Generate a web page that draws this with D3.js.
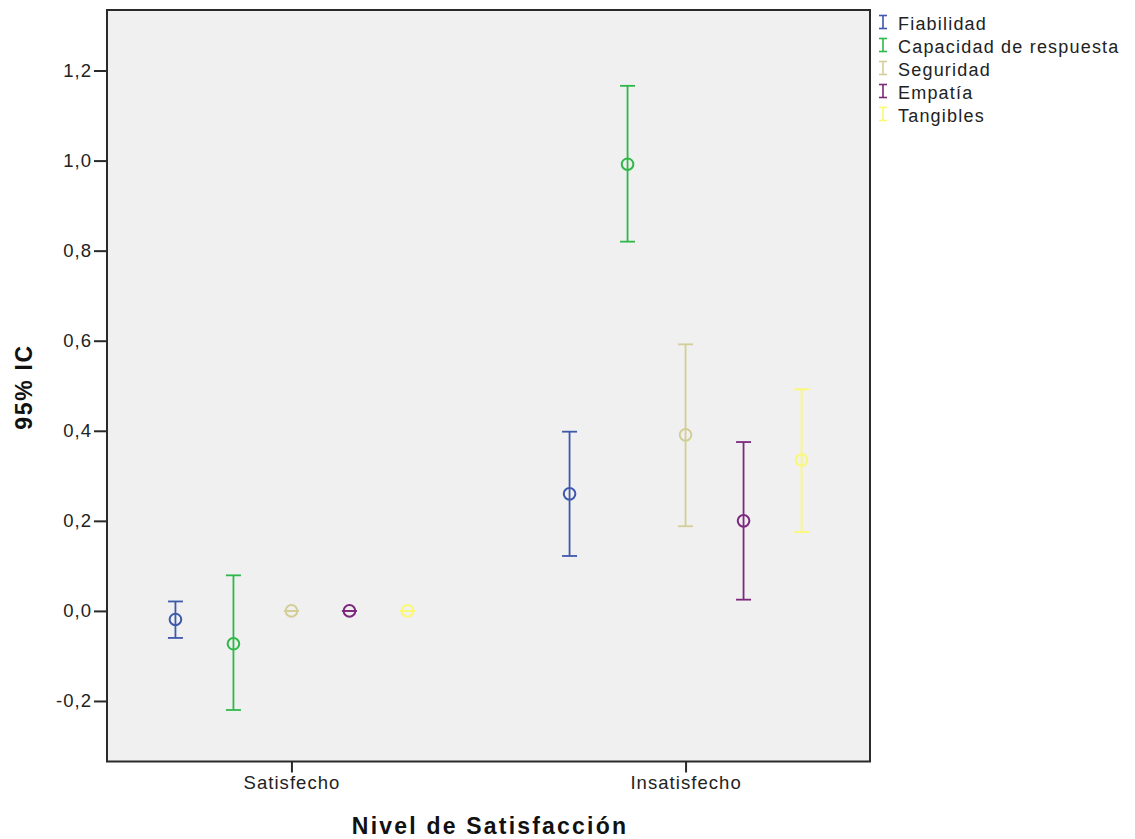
<!DOCTYPE html>
<html><head><meta charset="utf-8">
<script src="https://cdn.jsdelivr.net/npm/d3@7"></script>
<style>body{margin:0;background:#fff;} svg{display:block;} text{font-family:"Liberation Sans",Arial,sans-serif;}</style>
</head><body>
<svg id="c" width="1135" height="839"></svg>
<script>
const categories = ["Satisfecho", "Insatisfecho"];
const series = ["Fiabilidad", "Capacidad de respuesta", "Seguridad", "Empatía", "Tangibles"];
const colors = ["#3E58AC", "#2EB848", "#D3CE97", "#7C287D", "#FBF873"];
// per series: [Satisfecho, Insatisfecho]
const means = [[-0.019, 0.260], [-0.073, 0.992], [0.000, 0.391], [0.000, 0.200], [0.000, 0.335]];
const lowers = [[-0.060, 0.122], [-0.220, 0.820], [0.000, 0.188], [0.000, 0.025], [0.000, 0.175]];
const uppers = [[0.021, 0.398], [0.079, 1.166], [0.000, 0.592], [0.000, 0.375], [0.000, 0.492]];
const yTicks = [-0.2, 0.0, 0.2, 0.4, 0.6, 0.8, 1.0, 1.2];

const FONT = "Liberation Sans, Arial, sans-serif";
const svg = d3.select("#c");
const L = 107, R = 870, T = 10, B = 761.5;
const y = d3.scaleLinear().domain([-0.3344, 1.3344]).range([B, T]);
const x = d3.scalePoint().domain(categories).range([L, R]).padding(0.468);
const off = d3.scalePoint().domain(series).range([-116, 116]);

svg.append("rect").attr("x", L).attr("y", T).attr("width", R - L).attr("height", B - T)
  .attr("fill", "#F0F0F0").attr("stroke", "#2a2a2a").attr("stroke-width", 2);

const yAxis = svg.append("g").attr("transform", `translate(${L},0)`)
  .call(d3.axisLeft(y).tickValues(yTicks).tickSize(13).tickPadding(2)
    .tickFormat(d => d3.format(".1f")(d).replace(".", ",").replace("−", "-")));
yAxis.select(".domain").remove();
yAxis.selectAll("line").attr("stroke", "#2a2a2a").attr("stroke-width", 2);
yAxis.selectAll("text").attr("font-size", 18.5).attr("letter-spacing", 1).attr("fill", "#222").style("font-family", FONT);

const xAxis = svg.append("g").attr("transform", `translate(0,${B})`)
  .call(d3.axisBottom(x).tickSize(11).tickPadding(3));
xAxis.select(".domain").remove();
xAxis.selectAll("line").attr("stroke", "#2a2a2a").attr("stroke-width", 2);
xAxis.selectAll("text").attr("font-size", 18.5).attr("letter-spacing", 1.05).attr("fill", "#222").style("font-family", FONT);

svg.append("text").attr("x", 490).attr("y", 834).attr("text-anchor", "middle")
  .attr("font-size", 23).attr("letter-spacing", 2.2).attr("font-weight", "bold").attr("fill", "#111").text("Nivel de Satisfacción");
svg.append("text").attr("transform", "translate(31.5,387) rotate(-90)").attr("text-anchor", "middle")
  .attr("font-size", 23).attr("letter-spacing", 1.7).attr("font-weight", "bold").attr("fill", "#111").text("95% IC");

const cap = 7.5, r = 5.8;
series.forEach((s, i) => {
  const g = svg.append("g").attr("stroke", colors[i]).attr("stroke-width", 1.8).attr("fill", "none");
  categories.forEach((c, j) => {
    const cx = x(c) + off(s);
    g.append("line").attr("x1", cx).attr("x2", cx).attr("y1", y(lowers[i][j])).attr("y2", y(uppers[i][j]));
    g.append("line").attr("x1", cx - cap).attr("x2", cx + cap).attr("y1", y(lowers[i][j])).attr("y2", y(lowers[i][j]));
    g.append("line").attr("x1", cx - cap).attr("x2", cx + cap).attr("y1", y(uppers[i][j])).attr("y2", y(uppers[i][j]));
    g.append("circle").attr("cx", cx).attr("cy", y(means[i][j])).attr("r", r).attr("stroke-width", 2);
  });
});

const leg = svg.append("g");
series.forEach((s, i) => {
  const base = 30 + i * 23;
  const cy = base - 8;
  const gg = leg.append("g").attr("stroke", colors[i]).attr("stroke-width", 1.6);
  gg.append("line").attr("x1", 883).attr("x2", 883).attr("y1", cy - 6.5).attr("y2", cy + 6.5);
  gg.append("line").attr("x1", 879).attr("x2", 887).attr("y1", cy - 6.5).attr("y2", cy - 6.5);
  gg.append("line").attr("x1", 879).attr("x2", 887).attr("y1", cy + 6.5).attr("y2", cy + 6.5);
  leg.append("text").attr("x", 898).attr("y", base).attr("font-size", 18).attr("letter-spacing", 1.2)
    .attr("fill", "#222").text(s);
});
</script>
</body></html>
